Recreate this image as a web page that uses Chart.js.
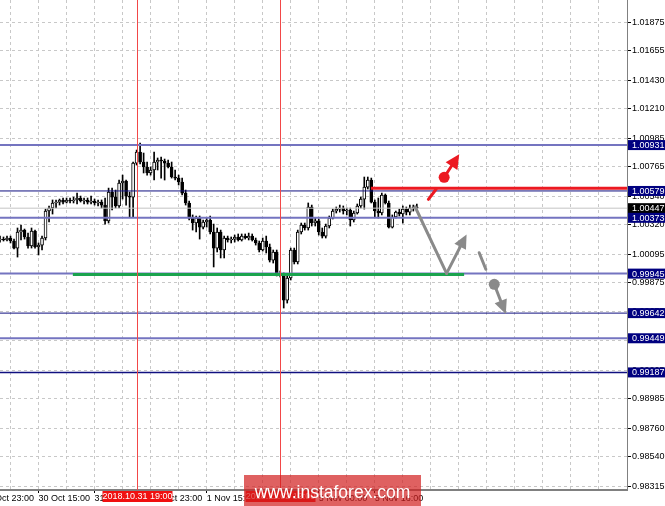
<!DOCTYPE html>
<html>
<head>
  <meta charset="utf-8">
  <title>EUR/USD H1</title>
  <script src="https://cdn.jsdelivr.net/npm/chart.js"></script>
  <style>
    body { margin: 0; padding: 0; background: #fff; }
    #kutu { position: relative; width: 665px; height: 506px; }
  </style>
</head>
<body>
<div id="kutu"><canvas id="grafik" width="665" height="506"></canvas></div>
<script>
// H1 mumlar (okunan degerler)
const candleOpen = [1.00203,1.00210,1.00203,1.00218,1.00195,1.00141,1.00264,1.00279,1.00226,1.00157,
  1.00272,1.00149,1.00164,1.00218,1.00425,1.00448,1.00487,1.00494,1.00510,1.00494,
  1.00510,1.00502,1.00510,1.00525,1.00502,1.00510,1.00494,1.00502,1.00487,1.00494,
  1.00471,1.00349,1.00571,1.00532,1.00464,1.00640,1.00655,1.00540,1.00532,1.00793,
  1.00878,1.00801,1.00763,1.00717,1.00740,1.00801,1.00816,1.00809,1.00793,1.00763,
  1.00686,1.00678,1.00648,1.00563,1.00487,1.00371,1.00333,1.00371,1.00302,1.00341,
  1.00356,1.00264,1.00141,1.00264,1.00126,1.00218,1.00203,1.00210,1.00226,1.00203,
  1.00233,1.00218,1.00233,1.00203,1.00180,1.00126,1.00195,1.00149,1.00049,1.00111,
  0.99942,0.99934,0.99742,0.99911,1.00126,1.00034,1.00264,1.00318,1.00295,1.00456,
  1.00333,1.00349,1.00264,1.00233,1.00310,1.00371,1.00425,1.00440,1.00448,1.00425,
  1.00433,1.00356,1.00410,1.00464,1.00517,1.00609,1.00663,1.00494,1.00425,1.00410,
  1.00548,1.00487,1.00302,1.00379,1.00417,1.00402,1.00440,1.00417,1.00448,1.00456];
const candleHigh = [1.00233,1.00226,1.00233,1.00233,1.00210,1.00295,1.00318,1.00287,1.00256,1.00295,
  1.00279,1.00180,1.00233,1.00440,1.00464,1.00510,1.00510,1.00517,1.00525,1.00525,
  1.00525,1.00532,1.00563,1.00540,1.00525,1.00525,1.00540,1.00517,1.00510,1.00510,
  1.00525,1.00601,1.00601,1.00586,1.00663,1.00701,1.00663,1.00571,1.00801,1.00893,
  1.00947,1.00870,1.00801,1.00763,1.00878,1.00832,1.00839,1.00824,1.00816,1.00801,
  1.00740,1.00701,1.00678,1.00586,1.00502,1.00395,1.00387,1.00387,1.00356,1.00371,
  1.00387,1.00325,1.00295,1.00279,1.00233,1.00233,1.00226,1.00241,1.00249,1.00249,
  1.00249,1.00256,1.00249,1.00218,1.00195,1.00218,1.00233,1.00172,1.00126,1.00126,
  0.99965,0.99950,0.99927,1.00141,1.00141,1.00279,1.00333,1.00333,1.00487,1.00471,
  1.00371,1.00364,1.00295,1.00325,1.00387,1.00440,1.00456,1.00471,1.00464,1.00448,
  1.00448,1.00425,1.00479,1.00532,1.00686,1.00686,1.00678,1.00510,1.00525,1.00563,
  1.00556,1.00502,1.00395,1.00425,1.00440,1.00464,1.00456,1.00471,1.00471,1.00479];
const candleLow = [1.00187,1.00195,1.00195,1.00180,1.00134,1.00072,1.00203,1.00210,1.00141,1.00141,
  1.00141,1.00088,1.00126,1.00203,1.00341,1.00402,1.00448,1.00471,1.00479,1.00487,
  1.00487,1.00487,1.00479,1.00494,1.00479,1.00479,1.00479,1.00471,1.00464,1.00448,
  1.00325,1.00333,1.00433,1.00448,1.00448,1.00517,1.00471,1.00379,1.00379,1.00778,
  1.00786,1.00717,1.00701,1.00701,1.00663,1.00740,1.00678,1.00663,1.00755,1.00678,
  1.00663,1.00625,1.00548,1.00471,1.00356,1.00279,1.00264,1.00210,1.00287,1.00302,
  1.00249,0.99996,1.00111,1.00065,1.00065,1.00187,1.00180,1.00187,1.00195,1.00195,
  1.00210,1.00203,1.00195,1.00164,1.00111,1.00118,1.00103,1.00034,1.00026,0.99927,
  0.99919,0.99681,0.99719,0.99896,1.00019,1.00019,1.00249,1.00279,1.00279,1.00310,
  1.00310,1.00241,1.00218,1.00218,1.00295,1.00364,1.00410,1.00417,1.00402,1.00395,
  1.00310,1.00341,1.00402,1.00448,1.00440,1.00594,1.00487,1.00379,1.00371,1.00395,
  1.00479,1.00295,1.00295,1.00371,1.00387,1.00333,1.00395,1.00395,1.00425,1.00440];
const candleClose = [1.00210,1.00203,1.00218,1.00195,1.00141,1.00264,1.00279,1.00226,1.00157,1.00272,
  1.00149,1.00164,1.00218,1.00425,1.00448,1.00487,1.00494,1.00510,1.00494,1.00510,
  1.00502,1.00510,1.00525,1.00502,1.00510,1.00494,1.00502,1.00487,1.00494,1.00471,
  1.00349,1.00571,1.00532,1.00464,1.00640,1.00655,1.00540,1.00532,1.00793,1.00878,
  1.00801,1.00763,1.00717,1.00740,1.00801,1.00816,1.00809,1.00793,1.00763,1.00686,
  1.00678,1.00648,1.00563,1.00487,1.00371,1.00333,1.00371,1.00302,1.00341,1.00356,
  1.00264,1.00141,1.00264,1.00126,1.00218,1.00203,1.00210,1.00226,1.00203,1.00233,
  1.00218,1.00233,1.00203,1.00180,1.00126,1.00195,1.00149,1.00049,1.00111,0.99942,
  0.99934,0.99742,0.99911,1.00126,1.00034,1.00264,1.00318,1.00295,1.00456,1.00333,
  1.00349,1.00264,1.00233,1.00310,1.00371,1.00425,1.00440,1.00448,1.00425,1.00433,
  1.00356,1.00410,1.00464,1.00517,1.00609,1.00663,1.00494,1.00425,1.00410,1.00548,
  1.00487,1.00302,1.00379,1.00417,1.00402,1.00440,1.00417,1.00448,1.00456,1.00448];

// fiyat ekseni
const priceTicks = [1.01875,1.01655,1.01430,1.01210,1.00985,1.00765,1.00540,1.00320,1.00095,
  0.99875,0.99655,0.99430,0.99205,0.98985,0.98760,0.98540,0.98315];
const priceMin = 0.98285, priceMax = 1.02044;

// zaman ekseni (mum sirasi)
const timeTickIdx = [-5, 11, 27, 43, 59, 75, 91, 107];
const timeTickText = ["29 Oct 23:00","30 Oct 15:00","31 Oct 07:00","31 Oct 23:00",
  "1 Nov 15:00","2 Nov 07:00","5 Nov 00:00","5 Nov 16:00"];
const slotCount = 179;

// seviyeler
const levelPrices = [1.00931, 1.00579, 1.00447, 1.00373, 0.99945, 0.99642, 0.99449, 0.99187];
const markerIdx = [39, 80];
const markerText = ["2018.10.31 19:00", "2018.11.02 12:00"];
const supportLine = [20.8, 132.5, 0.99938];
const resistLine = [105.9, 179, 1.00599];

// oklar: [mum sirasi, fiyat]
const redSeg = [[122.3, 1.00515], [124.5, 1.00592]];
const redDot = [126.8, 1.00684];
const redTip = [131.1, 1.00860];
const grayPath = [[118.5, 1.00458], [127.5, 0.99947], [133.2, 1.00246]];
const graySeg = [[136.8, 1.00105], [138.7, 0.99978]];
const grayDot = [141.1, 0.99863];
const grayTip = [144.4, 0.99635];

const fontAile = "'Liberation Sans', Arial, sans-serif";
const levelColor = ['#7474c0', '#101080', '#c4c4c4', '#7474c0', '#7474c0', '#101080', '#7474c0', '#101080'];
const levelWidth = [2, 1, 1, 2, 2, 1, 2, 1.5];
const boxColor = ['#000080', '#000080', '#000000', '#000080', '#000080', '#000080', '#000080', '#000080'];

function ok(ctx, x0, y0, x1, y1, renk, w, hl, hw) {
  const a = Math.atan2(y1 - y0, x1 - x0);
  const bx = x1 - hl * Math.cos(a), by = y1 - hl * Math.sin(a);
  ctx.strokeStyle = renk; ctx.lineWidth = w;
  ctx.beginPath(); ctx.moveTo(x0, y0); ctx.lineTo(bx, by); ctx.stroke();
  ctx.fillStyle = renk;
  ctx.beginPath();
  ctx.moveTo(x1, y1);
  ctx.lineTo(bx + hw * Math.sin(a), by - hw * Math.cos(a));
  ctx.lineTo(bx - hw * Math.sin(a), by + hw * Math.cos(a));
  ctx.closePath(); ctx.fill();
}

const cizimler = {
  id: 'cizimler',
  afterDatasetsDraw(chart) {
    const {ctx, chartArea: a, scales: {x, y}} = chart;
    const px = p => [x.getPixelForValue(p[0]), y.getPixelForValue(p[1])];
    ctx.save();
    ctx.beginPath(); ctx.rect(a.left, a.top, a.right - a.left, a.bottom - a.top); ctx.clip();

    // yatay seviyeler
    levelPrices.forEach((p, i) => {
      const yy = y.getPixelForValue(p);
      ctx.strokeStyle = levelColor[i]; ctx.lineWidth = levelWidth[i];
      ctx.beginPath(); ctx.moveTo(a.left, yy); ctx.lineTo(a.right, yy); ctx.stroke();
    });

    // destek (yesil) ve direnc (kirmizi)
    ctx.lineWidth = 3;
    ctx.strokeStyle = '#1aa34e';
    let yy = y.getPixelForValue(supportLine[2]);
    ctx.beginPath(); ctx.moveTo(x.getPixelForValue(supportLine[0]), yy); ctx.lineTo(x.getPixelForValue(supportLine[1]), yy); ctx.stroke();
    ctx.strokeStyle = '#ec1a22';
    yy = y.getPixelForValue(resistLine[2]);
    ctx.beginPath(); ctx.moveTo(x.getPixelForValue(resistLine[0]), yy); ctx.lineTo(x.getPixelForValue(resistLine[1]), yy); ctx.stroke();

    // dikey kirmizi cizgiler
    ctx.strokeStyle = '#f24848'; ctx.lineWidth = 1;
    markerIdx.forEach(m => {
      const xx = Math.round(x.getPixelForValue(m)) + 0.5;
      ctx.beginPath(); ctx.moveTo(xx, a.top); ctx.lineTo(xx, a.bottom); ctx.stroke();
    });

    // kirmizi ok
    ctx.lineCap = 'round';
    let s0 = px(redSeg[0]), s1 = px(redSeg[1]);
    ctx.strokeStyle = '#ec1a22'; ctx.lineWidth = 3;
    ctx.beginPath(); ctx.moveTo(s0[0], s0[1]); ctx.lineTo(s1[0], s1[1]); ctx.stroke();
    let d = px(redDot), t = px(redTip);
    ctx.fillStyle = '#ec1a22';
    ctx.beginPath(); ctx.arc(d[0], d[1], 5.5, 0, Math.PI * 2); ctx.fill();
    ok(ctx, d[0], d[1], t[0], t[1], '#ec1a22', 3, 14, 7);

    // gri yol
    const g = grayPath.map(px);
    ctx.strokeStyle = '#8a8a8a'; ctx.lineWidth = 3; ctx.lineJoin = 'round';
    ctx.beginPath(); ctx.moveTo(g[0][0], g[0][1]); ctx.lineTo(g[1][0], g[1][1]); ctx.stroke();
    ok(ctx, g[1][0], g[1][1], g[2][0], g[2][1], '#8a8a8a', 3, 14, 6.5);
    s0 = px(graySeg[0]); s1 = px(graySeg[1]);
    ctx.strokeStyle = '#8a8a8a';
    ctx.beginPath(); ctx.moveTo(s0[0], s0[1]); ctx.lineTo(s1[0], s1[1]); ctx.stroke();
    d = px(grayDot); t = px(grayTip);
    ctx.fillStyle = '#8a8a8a';
    ctx.beginPath(); ctx.arc(d[0], d[1], 5.5, 0, Math.PI * 2); ctx.fill();
    ok(ctx, d[0], d[1], t[0], t[1], '#8a8a8a', 3, 14, 6.5);
    ctx.restore();
  },
  afterDraw(chart) {
    const {ctx, chartArea: a, scales: {x, y}} = chart;
    ctx.save();
    ctx.font = '9px ' + fontAile;
    ctx.textBaseline = 'middle';

    // fiyat etiketleri
    levelPrices.forEach((p, i) => {
      const yy = y.getPixelForValue(p);
      ctx.fillStyle = boxColor[i];
      ctx.fillRect(a.right + 1, yy - 5, 40, 10);
      ctx.fillStyle = '#fff'; ctx.textAlign = 'left';
      ctx.fillText(p.toFixed(5), a.right + 5, yy + 0.5);
    });

    // zaman etiketleri (kirmizi)
    markerIdx.forEach((m, i) => {
      const xx = Math.round(x.getPixelForValue(m)) + 0.5;
      ctx.fillStyle = '#f01010';
      ctx.fillRect(xx - 35, a.bottom + 1, 70, 11);
      ctx.fillStyle = '#fff'; ctx.textAlign = 'center';
      ctx.fillText(markerText[i], xx, a.bottom + 7);
    });

    // filigran
    ctx.fillStyle = 'rgba(210, 30, 30, 0.7)';
    ctx.fillRect(244, 475, 177, 31);
    ctx.fillStyle = '#fff';
    ctx.font = '17.5px ' + fontAile;
    ctx.textAlign = 'center'; ctx.textBaseline = 'alphabetic';
    ctx.fillText('www.instaforex.com', 332.5, 497.5);
    ctx.restore();
  }
};

const gridIdx = [];
for (let i = -5; i <= slotCount; i += 8) gridIdx.push(i);

const govdeRenk = candleOpen.map((o, i) => candleClose[i] >= o ? '#ffffff' : '#000000');

const grafik = document.getElementById('grafik').getContext('2d');
new Chart(grafik, {
  type: 'bar',
  data: {
    datasets: [{
      label: 'govde',
      data: candleOpen.map((o, i) => ({ x: i, y: [o, candleClose[i]] })),
      backgroundColor: govdeRenk,
      borderColor: '#000',
      borderWidth: 1,
      borderSkipped: false,
      barThickness: 3,
      minBarLength: 1,
      grouped: false,
      order: 0
    }, {
      label: 'fitil',
      data: candleLow.map((l, i) => ({ x: i, y: [l, candleHigh[i]] })),
      backgroundColor: '#000',
      borderWidth: 0,
      barThickness: 1,
      grouped: false,
      order: 1
    }]
  },
  options: {
    responsive: false,
    animation: false,
    layout: { padding: 0 },
    plugins: { legend: { display: false }, tooltip: { enabled: false } },
    scales: {
      x: {
        type: 'linear',
        min: 0,
        max: slotCount,
        offset: false,
        afterBuildTicks: s => { s.ticks = gridIdx.map(v => ({ value: v })); },
        afterFit: s => { s.height = 16; s.paddingLeft = 0; s.paddingRight = 0; },
        grid: {
          offset: false,
          color: '#c8c8c8',
          tickLength: 3,
          tickColor: c => (c.tick && timeTickIdx.includes(c.tick.value)) ? '#000' : 'rgba(0,0,0,0)'
        },
        border: { display: true, color: '#808080', width: 2, dash: [3, 3] },
        ticks: {
          autoSkip: false,
          maxRotation: 0,
          align: 'start',
          padding: 0,
          color: '#000',
          font: { family: fontAile, size: 9 },
          callback: v => {
            const k = timeTickIdx.indexOf(v);
            return k >= 0 ? timeTickText[k] : '';
          }
        }
      },
      y: {
        type: 'linear',
        position: 'right',
        min: priceMin,
        max: priceMax,
        afterBuildTicks: s => { s.ticks = priceTicks.map(v => ({ value: v })); },
        afterFit: s => { s.width = 38; s.paddingTop = 0; s.paddingBottom = 0; },
        grid: { color: '#c8c8c8', tickLength: 4, tickColor: '#000' },
        border: { display: true, color: '#808080', width: 1, dash: [3, 3] },
        ticks: {
          autoSkip: false,
          padding: 1,
          color: '#000',
          font: { family: fontAile, size: 9 },
          callback: v => v.toFixed(5)
        }
      }
    }
  },
  plugins: [cizimler]
});
</script>
</body>
</html>
